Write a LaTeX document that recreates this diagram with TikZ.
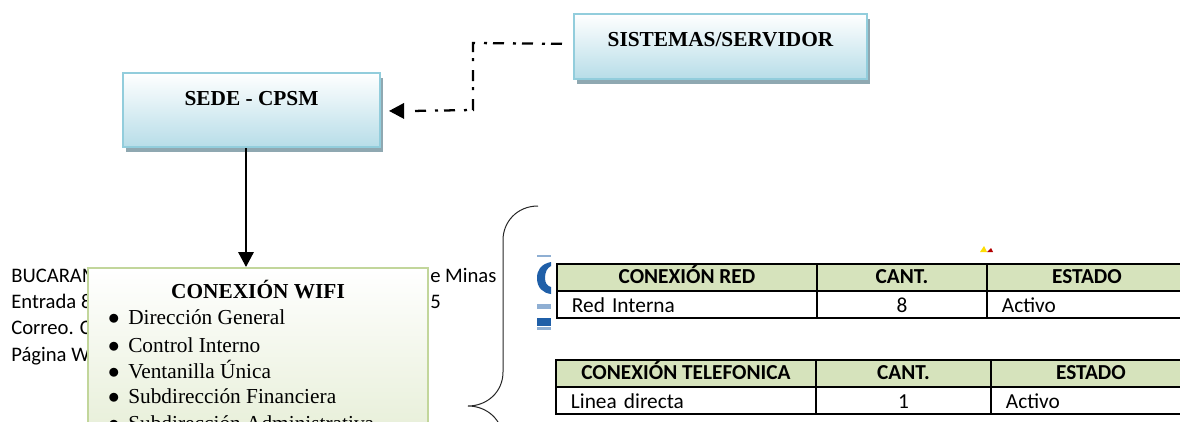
\documentclass[tikz,border=0pt]{standalone}
\usepackage{fontspec}
\setmainfont{Liberation Serif}
\newfontfamily\calfont{Carlito}
\usetikzlibrary{arrows.meta,shadows}
\def\px{0.75pt}
\definecolor{bluebot}{HTML}{B7DDE8}
\definecolor{greenbot}{HTML}{D6E3BC}
\definecolor{blueedge}{HTML}{92CDDC}
\definecolor{greenedge}{HTML}{C2D69B}
\definecolor{shadowc}{HTML}{8FA8B1}
\definecolor{headc}{HTML}{D6E3BC}
\definecolor{logoblue}{HTML}{1F5FA8}
\pgfdeclareverticalshading{bluefade}{100bp}{color(0bp)=(bluebot); color(25bp)=(bluebot); color(75bp)=(white); color(100bp)=(white)}
\pgfdeclareverticalshading{greenfade}{100bp}{color(0bp)=(greenbot); color(25bp)=(greenbot); color(75bp)=(white); color(100bp)=(white)}
\tikzset{
  x=0.75pt,y=-0.75pt,
  bluebox/.style={draw=blueedge,line width=1.5pt,shading=bluefade,font=\fontsize{16}{18}\selectfont\bfseries,
    drop shadow={shadow xshift=2.2pt,shadow yshift=-3.4pt,fill=shadowc,opacity=1},inner sep=0pt},
  greenbox/.style={draw=greenedge,line width=1.5pt,shading=greenfade,inner sep=0pt},
  bgtext/.style={font=\calfont\fontsize{15.5}{18}\selectfont,inner sep=0pt,anchor=base west},
  itemtext/.style={font=\fontsize{16}{18}\selectfont,inner sep=0pt,anchor=base west},
  bul/.style={font=\fontsize{16}{18}\selectfont,inner sep=0pt},
  hcell/.style={draw=black,line width=1.4pt,fill=headc,font=\calfont\bfseries\fontsize{16}{18}\selectfont,anchor=north west,inner sep=0pt,text height=11.8pt,text depth=2pt},
  dcell/.style={draw=black,line width=1.4pt,font=\calfont\fontsize{16}{18}\selectfont,anchor=north west,inner ysep=0pt,inner xsep=15*\px,align=left,text height=14pt,text depth=2pt},
  ncell/.style={draw=black,line width=1.4pt,font=\calfont\fontsize{16}{18}\selectfont,anchor=north west,inner sep=0pt,text height=14pt,text depth=2pt},
  link/.style={line width=1.7pt},
  dashlink/.style={line width=1.7pt,dash pattern=on 8.25pt off 6.75pt on 2.25pt off 4.5pt},
  tip/.style={-{Triangle[length=11.25pt,width=11.5pt]}},
  brace/.style={line width=0.75pt,black!85}
}
\begin{document}
\begin{tikzpicture}
\useasboundingbox (0,0) rectangle (1180,421);
\clip (0,0) rectangle (1180,421);
% logo fragments behind the tables
\fill[logoblue!50] (537,255) rectangle (551,257);
\fill[logoblue] (551,262) .. controls (541,264) and (537,270) .. (537,278) .. controls (537,288) and (543,293) .. (551,294) -- (551,287) .. controls (547,286) and (545,283) .. (545,278) .. controls (545,272) and (547,268) .. (551,266) -- cycle;
\fill[logoblue!50] (537,304) rectangle (551,309);
\fill[logoblue] (537,318) rectangle (551,326);
\fill[logoblue!50] (537,327) rectangle (551,330);
\fill[yellow!80!orange] (980,252) -- (984,246) -- (987,252) -- cycle;
\fill[red!70!black] (987,252) -- (991,248) -- (993,252) -- cycle;
% background text partly hidden by the box
\node[bgtext] (b1) at (11,282) {BUCARAM};
\node[bgtext] (b2) at (11,308) {Entrada 8};
\node[bgtext] (b3) at (11,334) {Correo. C};
\node[bgtext] (b4) at (11,361) {Página W};
\node[bgtext] (b5) at (430,282) {e Minas};
\node[bgtext] (b6) at (430,308) {5};
% boxes
\node[bluebox,minimum width=257*\px,minimum height=74*\px,anchor=north west] (sede) at (122,72) {\raisebox{3.75pt}[0pt][0pt]{SEDE - CPSM}};
\node[bluebox,minimum width=293*\px,minimum height=65*\px,anchor=north west] (sis) at (573,13) {\raisebox{0pt}[0pt][0pt]{SISTEMAS/SERVIDOR}};
\node[greenbox,minimum width=340*\px,minimum height=290*\px,anchor=north west] (wifi) at (87,267) {};
\node[font=\fontsize{16}{18}\selectfont\bfseries,inner sep=0pt,anchor=base] (wifititle) at (258,298) {CONEXIÓN WIFI};
\foreach \i/\yy/\t in {1/324/Dirección General,2/352/Control Interno,3/378/Ventanilla Única,4/403/Subdirección Financiera,5/430/Subdirección Administrativa}{
  \node[bul,anchor=base] (bul\i) at (114,\yy) {$\bullet$};
  \node[itemtext] (item\i) at (128,\yy) {\t};
}
% connectors
\coordinate (a1) at (473,43);
\coordinate (a2) at (473,110);
\draw[dashlink] ([yshift=-0.7pt,xshift=25.5pt]sede.east) -- (a2) -- (a1) -- ([yshift=2pt,xshift=-7.5pt]sis.west);
\draw[link,tip,draw=black,fill=black] ([xshift=14pt,yshift=-0.7pt]sede.east) -- ([xshift=6pt,yshift=-0.7pt]sede.east);
\draw[link,tip] ([xshift=-4.125pt]sede.south) -- ([xshift=-9pt]wifi.north);
% brace
\coordinate (br1) at (538,206);
\coordinate (br2) at (503,240);
\coordinate (br3) at (503,372);
\coordinate (br4) at (468,406);
\coordinate (br5) at (503,440);
\draw[brace] (br1) .. controls (517,206) and (503,222) .. (br2) -- (br3) .. controls (503,392) and (487,406) .. (br4) .. controls (487,406) and (503,420) .. (br5);
% table 1
\node[hcell,minimum width=260*\px,minimum height=27*\px] (t11) at (556,263) {CONEXIÓN RED};
\node[hcell,minimum width=170*\px,minimum height=27*\px] (t12) at (816,263) {CANT.};
\node[hcell,minimum width=200*\px,minimum height=27*\px] (t13) at (986,263) {ESTADO};
\node[dcell,text width=230*\px,minimum height=27*\px] (t21) at (556,290) {Red Interna};
\node[ncell,minimum width=170*\px,minimum height=27*\px] (t22) at (816,290) {8};
\node[dcell,text width=170*\px,minimum height=27*\px] (t23) at (986,290) {Activo};
% table 2
\node[hcell,minimum width=260*\px,minimum height=27*\px] (u11) at (555,359) {CONEXIÓN TELEFONICA};
\node[hcell,minimum width=175*\px,minimum height=27*\px] (u12) at (815,359) {CANT.};
\node[hcell,minimum width=200*\px,minimum height=27*\px] (u13) at (990,359) {ESTADO};
\node[dcell,text width=230*\px,minimum height=27*\px] (u21) at (555,386) {Linea directa};
\node[ncell,minimum width=175*\px,minimum height=27*\px] (u22) at (815,386) {1};
\node[dcell,text width=170*\px,minimum height=27*\px] (u23) at (990,386) {Activo};
\end{tikzpicture}
\end{document}
